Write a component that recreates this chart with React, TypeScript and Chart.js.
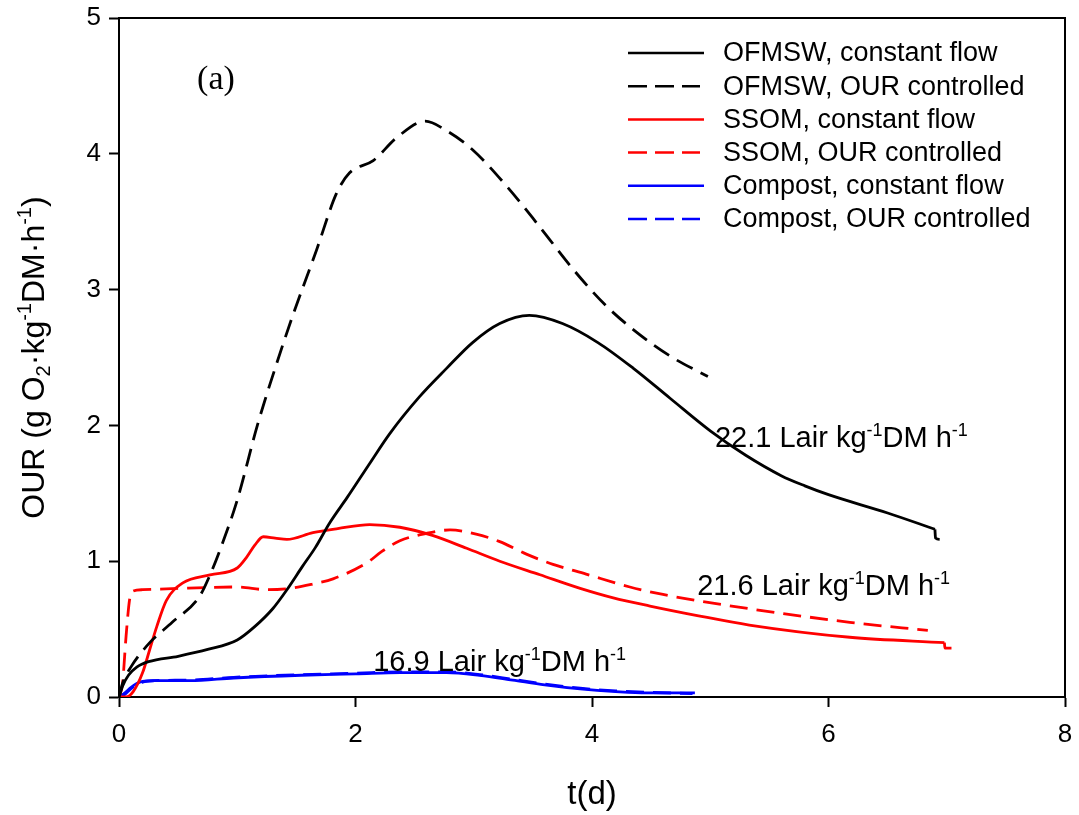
import React, { useEffect, useRef } from 'react';
import { Chart, registerables } from 'chart.js';

Chart.register(...registerables);

const FONT = '"Liberation Sans", Arial, Helvetica, sans-serif';

// ---- data (t in days, OUR in g O2 kg-1 DM h-1); null = break before the end step ----
const ofmswConstT = [0, 0.03, 0.08, 0.15, 0.25, 0.5, 0.75, 1.0, 1.15, 1.3, 1.42, 1.55, 1.66, 1.78, 1.93, 2.12, 2.29, 2.54, 2.77, 2.99, 3.22, 3.47, 3.75, 4.05, 4.35, 4.66, 5.0, 5.3, 5.6, 5.8, 6.0, 6.5, 6.9, 6.9, 6.9, 6.905, 6.94];
const ofmswConstY = [0, 0.08, 0.16, 0.22, 0.26, 0.3, 0.35, 0.42, 0.52, 0.65, 0.79, 0.96, 1.1, 1.28, 1.47, 1.72, 1.94, 2.21, 2.42, 2.61, 2.75, 2.81, 2.75, 2.61, 2.42, 2.2, 1.96, 1.78, 1.63, 1.555, 1.49, 1.355, 1.235, null, 1.235, 1.17, 1.16];

const ofmswCtrlT = [0, 0.03, 0.1, 0.26, 0.45, 0.68, 0.78, 0.87, 1.0, 1.17, 1.32, 1.47, 1.67, 1.84, 1.95, 2.15, 2.35, 2.59, 2.77, 2.99, 3.28, 3.56, 3.84, 4.12, 4.4, 4.68, 4.98];
const ofmswCtrlY = [0, 0.1, 0.22, 0.4, 0.55, 0.74, 0.92, 1.12, 1.45, 2.0, 2.42, 2.81, 3.29, 3.71, 3.86, 3.95, 4.12, 4.24, 4.17, 4.03, 3.76, 3.46, 3.15, 2.88, 2.67, 2.5, 2.36];

const ssomConstT = [0, 0.06, 0.12, 0.2, 0.26, 0.32, 0.4, 0.54, 0.77, 1.0, 1.08, 1.15, 1.22, 1.32, 1.42, 1.64, 1.85, 2.12, 2.375, 2.65, 2.94, 3.22, 3.56, 3.9, 4.18, 4.49, 4.89, 5.33, 6.18, 6.98, 6.98, 6.98, 6.985, 7.04];
const ssomConstY = [0, 0.0, 0.04, 0.18, 0.35, 0.52, 0.71, 0.84, 0.9, 0.95, 1.03, 1.12, 1.18, 1.17, 1.16, 1.21, 1.24, 1.27, 1.25, 1.19, 1.095, 1.0, 0.9, 0.8, 0.73, 0.67, 0.6, 0.53, 0.44, 0.4, null, 0.4, 0.36, 0.36];

const ssomCtrlT = [0, 0.03, 0.06, 0.09, 0.12, 0.2, 0.5, 1.0, 1.25, 1.45, 1.63, 1.81, 2.1, 2.22, 2.375, 2.6, 2.8, 3.02, 3.22, 3.45, 3.67, 3.95, 4.32, 4.6, 4.89, 5.33, 6.18, 6.84];
const ssomCtrlY = [0, 0.1, 0.45, 0.72, 0.78, 0.79, 0.8, 0.81, 0.79, 0.8, 0.83, 0.87, 0.99, 1.07, 1.15, 1.205, 1.23, 1.2, 1.144, 1.05, 0.977, 0.905, 0.81, 0.755, 0.71, 0.65, 0.55, 0.49];

const compConstT = [0, 0.05, 0.1, 0.15, 0.2, 0.3, 0.6, 0.97, 1.54, 2.0, 2.38, 2.77, 3.05, 3.33, 3.6, 3.9, 4.2, 4.46, 4.87];
const compConstY = [0, 0.03, 0.07, 0.1, 0.115, 0.12, 0.12, 0.14, 0.16, 0.17, 0.18, 0.18, 0.16, 0.125, 0.09, 0.06, 0.04, 0.03, 0.03];

const compCtrlT = [0, 0.05, 0.1, 0.15, 0.2, 0.3, 0.6, 0.97, 1.54, 2.0, 2.38, 2.77, 3.05, 3.33, 3.6, 3.9, 4.2, 4.46, 4.85];
const compCtrlY = [0, 0.02, 0.06, 0.09, 0.11, 0.12, 0.125, 0.145, 0.165, 0.175, 0.185, 0.185, 0.165, 0.13, 0.095, 0.065, 0.045, 0.035, 0.025];

const seriesNames = [
  'OFMSW, constant flow',
  'OFMSW, OUR controlled',
  'SSOM, constant flow',
  'SSOM, OUR controlled',
  'Compost, constant flow',
  'Compost, OUR controlled',
];
const seriesColors = ['#000000', '#000000', '#ff0000', '#ff0000', '#0000ff', '#0000ff'];
const seriesDashed = [false, true, false, true, false, true];

const xTicks = [0, 2, 4, 6, 8];
const yTicks = [0, 1, 2, 3, 4, 5];

const flowLabels = [
  { t: 5.04, y: 1.84, value: '22.1' },
  { t: 4.89, y: 0.75, value: '21.6' },
  { t: 2.15, y: 0.19, value: '16.9' },
];

const zip = (t: number[], y: (number | null)[]) => t.map((x, i) => ({ x, y: y[i] }));
const seriesData = [
  zip(ofmswConstT, ofmswConstY),
  zip(ofmswCtrlT, ofmswCtrlY),
  zip(ssomConstT, ssomConstY),
  zip(ssomCtrlT, ssomCtrlY),
  zip(compConstT, compConstY),
  zip(compCtrlT, compCtrlY),
];

type Part = { t: string; sup?: boolean; sub?: boolean };

function richWidth(ctx: CanvasRenderingContext2D, parts: Part[], size: number) {
  let w = 0;
  for (const p of parts) {
    const s = p.sup || p.sub ? Math.round(size * 0.62) : size;
    ctx.font = `${s}px ${FONT}`;
    w += ctx.measureText(p.t).width;
  }
  return w;
}

function drawRich(ctx: CanvasRenderingContext2D, x: number, y: number, parts: Part[], size: number) {
  let cx = x;
  ctx.textBaseline = 'alphabetic';
  ctx.textAlign = 'left';
  for (const p of parts) {
    const s = p.sup || p.sub ? Math.round(size * 0.62) : size;
    ctx.font = `${s}px ${FONT}`;
    let yy = y;
    if (p.sup) yy = y - size * 0.4;
    if (p.sub) yy = y + size * 0.2;
    ctx.fillText(p.t, cx, yy);
    cx += ctx.measureText(p.t).width;
  }
}

const decorPlugin = {
  id: 'decor',
  afterDraw(chart: any) {
    const { ctx, chartArea: a, scales } = chart;
    const xs = scales.x;
    const ys = scales.y;
    ctx.save();
    // frame top/right
    ctx.strokeStyle = '#000';
    ctx.lineWidth = 2;
    ctx.beginPath();
    ctx.moveTo(a.left, a.top);
    ctx.lineTo(a.right, a.top);
    ctx.lineTo(a.right, a.bottom);
    ctx.stroke();

    // legend
    const lx0 = 628;
    const lx1 = 704;
    const tx = 723;
    const rowY0 = 53;
    const rowStep = 33.2;
    seriesNames.forEach((name, i) => {
      const yy = rowY0 + i * rowStep;
      ctx.strokeStyle = seriesColors[i];
      ctx.lineWidth = 2.5;
      ctx.setLineDash(seriesDashed[i] ? [19, 8] : []);
      ctx.beginPath();
      ctx.moveTo(lx0, yy);
      ctx.lineTo(seriesDashed[i] ? lx1 - 4 : lx1, yy);
      ctx.stroke();
      ctx.setLineDash([]);
      ctx.fillStyle = '#000';
      ctx.font = `27px ${FONT}`;
      ctx.textAlign = 'left';
      ctx.textBaseline = 'middle';
      ctx.fillText(name, tx, yy + 1);
    });

    // (a)
    ctx.fillStyle = '#000';
    ctx.font = `34px "Liberation Serif", "Times New Roman", serif`;
    ctx.textAlign = 'center';
    ctx.textBaseline = 'middle';
    ctx.fillText('(a)', xs.getPixelForValue(0.82), ys.getPixelForValue(4.54));

    // flow labels
    for (const f of flowLabels) {
      drawRich(ctx, xs.getPixelForValue(f.t), ys.getPixelForValue(f.y), [
        { t: `${f.value} Lair kg` },
        { t: '-1', sup: true },
        { t: 'DM h' },
        { t: '-1', sup: true },
      ], 29);
    }

    // y axis title
    const yParts: Part[] = [
      { t: 'OUR (g O' },
      { t: '2', sub: true },
      { t: '·kg' },
      { t: '-1', sup: true },
      { t: 'DM·h' },
      { t: '-1', sup: true },
      { t: ')' },
    ];
    ctx.save();
    ctx.translate(44, (a.top + a.bottom) / 2);
    ctx.rotate(-Math.PI / 2);
    const w = richWidth(ctx, yParts, 32);
    drawRich(ctx, -w / 2, 0, yParts, 32);
    ctx.restore();

    // x axis title
    ctx.font = `33px ${FONT}`;
    ctx.textAlign = 'center';
    ctx.textBaseline = 'middle';
    ctx.fillText('t(d)', (a.left + a.right) / 2, 795);

    ctx.restore();
  },
};

export default function App() {
  const ref = useRef<HTMLCanvasElement>(null);
  useEffect(() => {
    const canvas = ref.current;
    if (!canvas) return;
    const chart = new Chart(canvas, {
      type: 'line',
      data: {
        datasets: seriesData.map((d, i) => ({
          label: seriesNames[i],
          data: d,
          borderColor: seriesColors[i],
          backgroundColor: seriesColors[i],
          borderWidth: 2.8,
          borderDash: seriesDashed[i] ? [18, 9] : [],
          pointRadius: 0,
          fill: false,
          spanGaps: false,
          cubicInterpolationMode: 'monotone' as const,
        })),
      },
      options: {
        responsive: false,
        animation: false,
        events: [],
        layout: { padding: { left: 0, top: 18, right: 14, bottom: 0 } },
        plugins: { legend: { display: false }, tooltip: { enabled: false } },
        scales: {
          x: {
            type: 'linear',
            min: 0,
            max: 8,
            afterBuildTicks: (s: any) => { s.ticks = xTicks.map((v) => ({ value: v })); },
            afterFit: (s: any) => { s.height = 118; s.paddingLeft = 0; s.paddingRight = 0; },
            ticks: { color: '#000', font: { size: 26, family: FONT }, padding: 12, maxRotation: 0 },
            grid: { drawOnChartArea: false, tickLength: 10, color: '#000', tickWidth: 2 },
            border: { color: '#000', width: 2 },
          },
          y: {
            type: 'linear',
            min: 0,
            max: 5,
            afterBuildTicks: (s: any) => { s.ticks = yTicks.map((v) => ({ value: v })); },
            afterFit: (s: any) => { s.width = 119; s.paddingTop = 0; s.paddingBottom = 0; },
            ticks: { color: '#000', font: { size: 26, family: FONT }, padding: 8 },
            grid: { drawOnChartArea: false, tickLength: 10, color: '#000', tickWidth: 2 },
            border: { color: '#000', width: 2 },
          },
        },
      },
      plugins: [decorPlugin],
    });
    return () => chart.destroy();
  }, []);
  return (
    <div style={{ position: 'absolute', left: 0, top: 0, width: 1079, height: 815, background: '#fff' }}>
      <canvas ref={ref} width={1079} height={815} style={{ width: 1079, height: 815, display: 'block' }} />
    </div>
  );
}
